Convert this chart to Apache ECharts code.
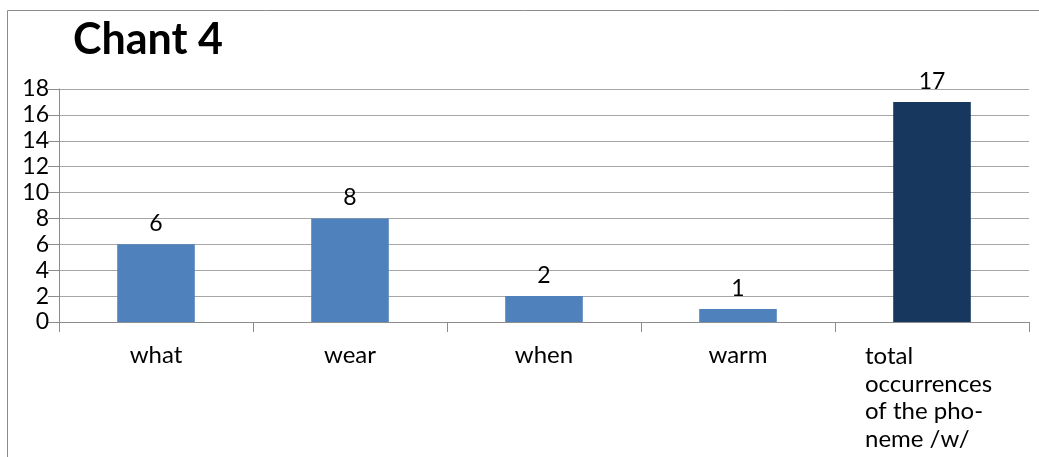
<!DOCTYPE html>
<html>
<head>
<meta charset="utf-8">
<script src="https://cdn.jsdelivr.net/npm/echarts@6/dist/echarts.min.js"></script>
<style>
  html, body { margin: 0; padding: 0; background: #fff; }
  #chart { width: 1039px; height: 457px; }
</style>
</head>
<body>
<div id="chart"></div>
<script>
// Occurrences of the phoneme /w/ in the chant
const categories = ['what', 'wear', 'when', 'warm', 'total occurrences of the pho- neme /w/'];
const counts = [6, 8, 2, 1, 17];
const barColors = ['#4F81BD', '#4F81BD', '#4F81BD', '#4F81BD', '#17375E'];
const yTicks = { min: 0, max: 18, step: 2 };

const FONT = 'Lato, "Open Sans", sans-serif';

// the long total label wraps into left-aligned lines
const totalLines = ['total', 'occurrences', 'of the pho-', 'neme /w/'];

const chart = echarts.init(document.getElementById('chart'), null, { renderer: 'canvas' });

chart.setOption({
  backgroundColor: '#fff',
  animation: false,
  title: {
    text: 'Chant 4',
    left: 68,
    top: 14,
    textStyle: { fontFamily: FONT, fontWeight: 'bold', fontSize: 43, color: '#000' }
  },
  graphic: [
    { type: 'line', shape: { x1: 7.5, y1: 10.5, x2: 1039, y2: 10.5 }, style: { stroke: '#8c8c8c', lineWidth: 1 } },
    { type: 'line', shape: { x1: 7.5, y1: 10.5, x2: 7.5, y2: 457 }, style: { stroke: '#8c8c8c', lineWidth: 1 } }
  ],
  grid: { left: 59, right: 10, top: 89, bottom: 135, containLabel: false },
  xAxis: {
    type: 'category',
    data: categories,
    axisLine: { show: true, lineStyle: { color: '#8c8c8c', width: 1 } },
    axisTick: { show: true, length: 10, alignWithLabel: false, lineStyle: { color: '#8c8c8c' } },
    axisLabel: {
      interval: 0,
      margin: 21,
      fontFamily: FONT,
      fontSize: 24,
      color: '#000',
      formatter: function (v, i) {
        if (i === categories.length - 1) {
          return totalLines.map(s => '{t|' + s + '}').join('\n');
        }
        return v;
      },
      rich: {
        t: { fontFamily: FONT, fontSize: 24, color: '#000', width: 134, align: 'left', lineHeight: 27.5 }
      }
    }
  },
  yAxis: {
    type: 'value',
    min: yTicks.min,
    max: yTicks.max,
    interval: yTicks.step,
    axisLine: { show: true, lineStyle: { color: '#8c8c8c', width: 1 } },
    axisTick: { show: true, length: 11, lineStyle: { color: '#8c8c8c' } },
    axisLabel: { margin: 10, fontFamily: FONT, fontSize: 23, color: '#000' },
    splitLine: { show: true, lineStyle: { color: '#a6a6a6', width: 1 } }
  },
  series: [{
    type: 'bar',
    barWidth: '40%',
    data: counts.map((v, i) => ({ value: v, itemStyle: { color: barColors[i] } })),
    label: {
      show: true,
      position: 'top',
      distance: 9,
      fontFamily: FONT,
      fontSize: 23,
      color: '#000'
    }
  }]
});
</script>
</body>
</html>
